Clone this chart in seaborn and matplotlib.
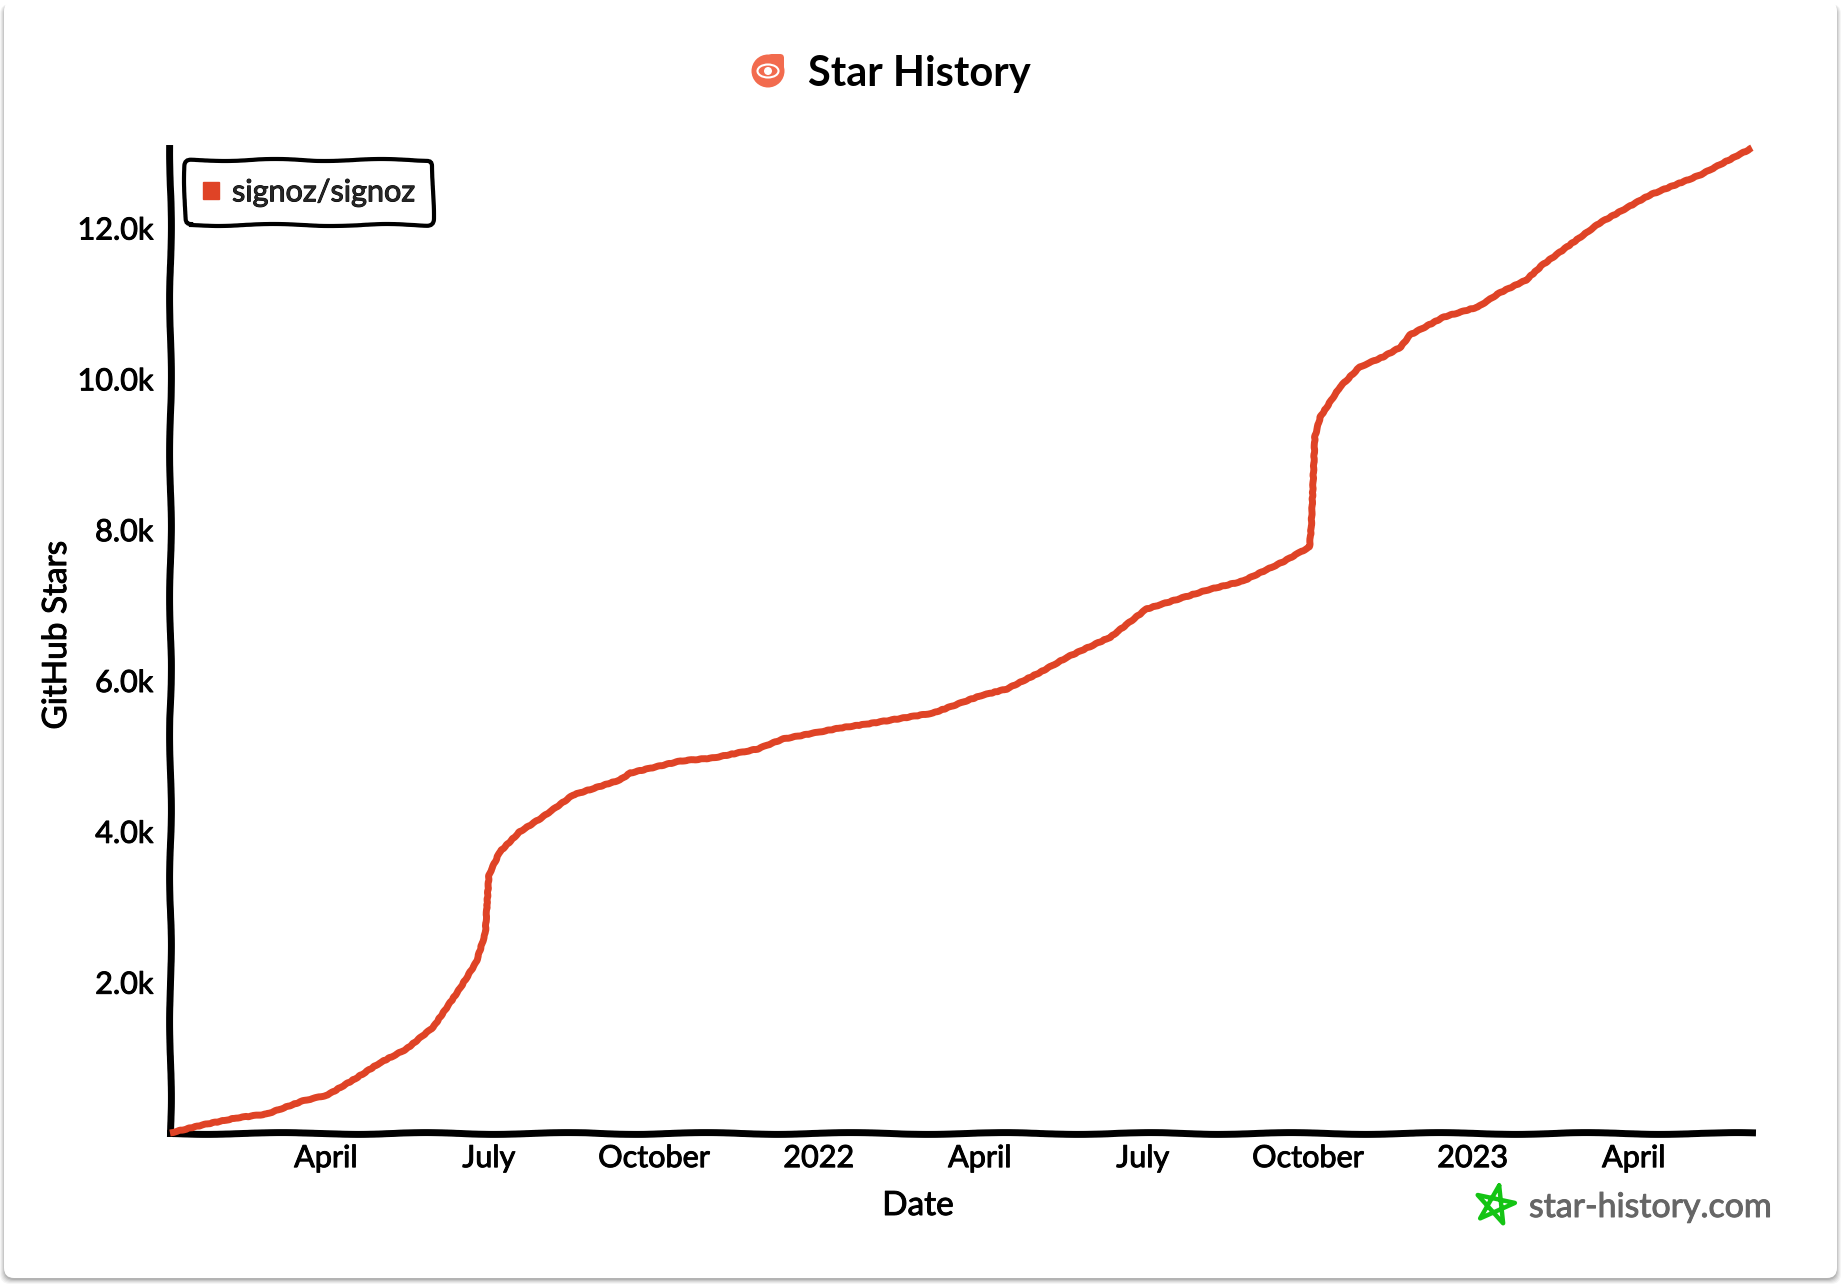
import matplotlib
matplotlib.use("Agg")
import matplotlib.pyplot as plt
import matplotlib.patheffects as pe
from matplotlib.patches import Circle, Ellipse, FancyBboxPatch, Patch
import seaborn as sns
import pandas as pd
import numpy as np

# star counts
dates = [
    "2021-01-04", "2021-01-22", "2021-02-10", "2021-02-27", "2021-03-19", "2021-04-02",
    "2021-04-18", "2021-05-01", "2021-05-16", "2021-05-31", "2021-06-15", "2021-06-24",
    "2021-06-29", "2021-06-30", "2021-07-01", "2021-07-07", "2021-07-18", "2021-07-31",
    "2021-08-17", "2021-09-12", "2021-09-18", "2021-10-16", "2021-11-03", "2021-11-28",
    "2021-12-12", "2022-01-13", "2022-01-28", "2022-03-06", "2022-04-01", "2022-04-16",
    "2022-05-05", "2022-05-20", "2022-06-13", "2022-07-03", "2022-08-06", "2022-08-26",
    "2022-09-17", "2022-10-02", "2022-10-03", "2022-10-04", "2022-10-05", "2022-10-08",
    "2022-10-19", "2022-10-30", "2022-11-12", "2022-11-22", "2022-11-27", "2022-12-16",
    "2023-01-04", "2023-01-16", "2023-01-31", "2023-02-09", "2023-03-13", "2023-04-10",
    "2023-05-08", "2023-06-06",
]
stars = [
    0, 106, 199, 252, 424, 504,
    729, 928, 1114, 1406, 1923, 2268,
    2652, 3050, 3421, 3726, 3991, 4190,
    4482, 4681, 4774, 4933, 4973, 5092,
    5224, 5370, 5423, 5569, 5795, 5887,
    6113, 6312, 6577, 6948, 7200, 7320,
    7571, 7770, 8036, 8619, 9229, 9494,
    9892, 10157, 10290, 10423, 10581, 10820,
    10953, 11138, 11311, 11510, 12067, 12438,
    12703, 13061,
]
repo_name = "signoz/signoz"

x_tick_dates = ["2021-04-01", "2021-07-01", "2021-10-01", "2022-01-01", "2022-04-01",
                "2022-07-01", "2022-10-01", "2023-01-01", "2023-04-01"]
x_tick_labels = ["April", "July", "October", "2022", "April", "July", "October", "2023", "April"]
y_ticks = [2000, 4000, 6000, 8000, 10000, 12000]
y_tick_labels = ["2.0k", "4.0k", "6.0k", "8.0k", "10.0k", "12.0k"]

LINE_RED = "#DF4326"
W, H = 1844, 1288

sns.set_theme(style="white")
plt.rcParams["font.family"] = ["Lato", "DejaVu Sans"]

# regular weight is a bit thin next to the hand lettering
heavy = [pe.withStroke(linewidth=0.7, foreground="black")]

fig = plt.figure(figsize=(W / 100, H / 100), dpi=100, facecolor="white")

# background layer in pixel coordinates: card, shadow, logo, watermark
bg = fig.add_axes([0, 0, 1, 1], zorder=0)
bg.set_xlim(0, W)
bg.set_ylim(H, 0)
bg.axis("off")
for grow, alpha in [(5, 0.04), (4, 0.05), (3, 0.06), (2, 0.08), (1, 0.10)]:
    bg.add_patch(FancyBboxPatch((4 - grow + 1, 4), 1833 + 2 * grow - 2, 1274 + grow + 1,
                                boxstyle="round,pad=0,rounding_size=10",
                                fc="black", ec="none", alpha=alpha))
bg.add_patch(FancyBboxPatch((4, 1), 1833, 1277, boxstyle="round,pad=0,rounding_size=10",
                            fc="white", ec="none"))

# title logo
LOGO = "#F26B4E"
bg.add_patch(Circle((768, 71), 16.5, fc=LOGO, ec="none"))
bg.add_patch(FancyBboxPatch((768, 54), 16, 16, boxstyle="round,pad=0,rounding_size=4",
                            fc=LOGO, ec="none"))
bg.add_patch(Ellipse((768, 71), 21, 13, fc="none", ec="white", lw=1.5))
bg.add_patch(Circle((768, 71), 4, fc="white", ec="none"))
bg.text(808, 74, "Star History", fontsize=30, fontweight="bold", color="black",
        ha="left", va="center")

# star logo and site name
ang = np.deg2rad(78 + 144 * np.arange(6))
bg.plot(1495 + 20 * np.cos(ang), 1205 - 20 * np.sin(ang), color="#14C414", lw=3.2,
        solid_joinstyle="round")
bg.text(1529, 1207, "star-history.com", fontsize=24.4, color="#666666", ha="left", va="center",
        path_effects=[pe.withStroke(linewidth=0.7, foreground="#666666")])

# chart
ax = fig.add_axes([170 / W, 1 - 1133 / H, (1752 - 170) / W, (1133 - 148) / H], zorder=1)
ax.patch.set_alpha(0)

df = pd.DataFrame({"date": pd.to_datetime(dates), "stars": stars})
sns.lineplot(data=df, x="date", y="stars", color=LINE_RED, lw=5, ax=ax, clip_on=False,
             zorder=5, solid_capstyle="butt")
ax.lines[0].set_sketch_params(scale=0.3, length=12, randomness=3)

ax.set_xlim(df["date"].iloc[0], df["date"].iloc[-1])
ax.set_ylim(0, 13061)
ax.set_xticks(pd.to_datetime(x_tick_dates))
ax.set_xticklabels(x_tick_labels)
ax.set_yticks(y_ticks)
ax.set_yticklabels(y_tick_labels)
ax.tick_params(axis="both", length=0, labelsize=22, labelcolor="black")
ax.tick_params(axis="x", pad=8)
ax.tick_params(axis="y", pad=12)
for lab in ax.get_xticklabels() + ax.get_yticklabels():
    lab.set_path_effects(heavy)
ax.grid(False)
ax.set_xlabel("")
ax.set_ylabel("")
bg.text(918, 1206, "Date", fontsize=24, color="black", ha="center", va="center", path_effects=heavy)
bg.text(57, 635, "GitHub Stars", fontsize=24, color="black", ha="center", va="center",
        rotation=90, path_effects=heavy)

sns.despine(ax=ax)
for side in ["left", "bottom"]:
    ax.spines[side].set_linewidth(5)
    ax.spines[side].set_color("black")
    ax.spines[side].set_sketch_params(scale=0.9, length=160, randomness=2)

# legend
handle = Patch(facecolor=LINE_RED, edgecolor=LINE_RED, label=repo_name)
leg = ax.legend(handles=[handle], loc="upper left", bbox_to_anchor=(15 / 1582, 1 - 12 / 985),
                bbox_transform=ax.transAxes, borderaxespad=0, fontsize=22, frameon=True,
                fancybox=True, handlelength=0.52, handleheight=0.52, handletextpad=0.42,
                borderpad=0.6, framealpha=1)
leg.get_texts()[0].set_path_effects(heavy)
frame = leg.get_frame()
frame.set_edgecolor("black")
frame.set_linewidth(3)
frame.set_sketch_params(scale=1.0, length=120, randomness=2)

fig.savefig("out.png", dpi=100)
